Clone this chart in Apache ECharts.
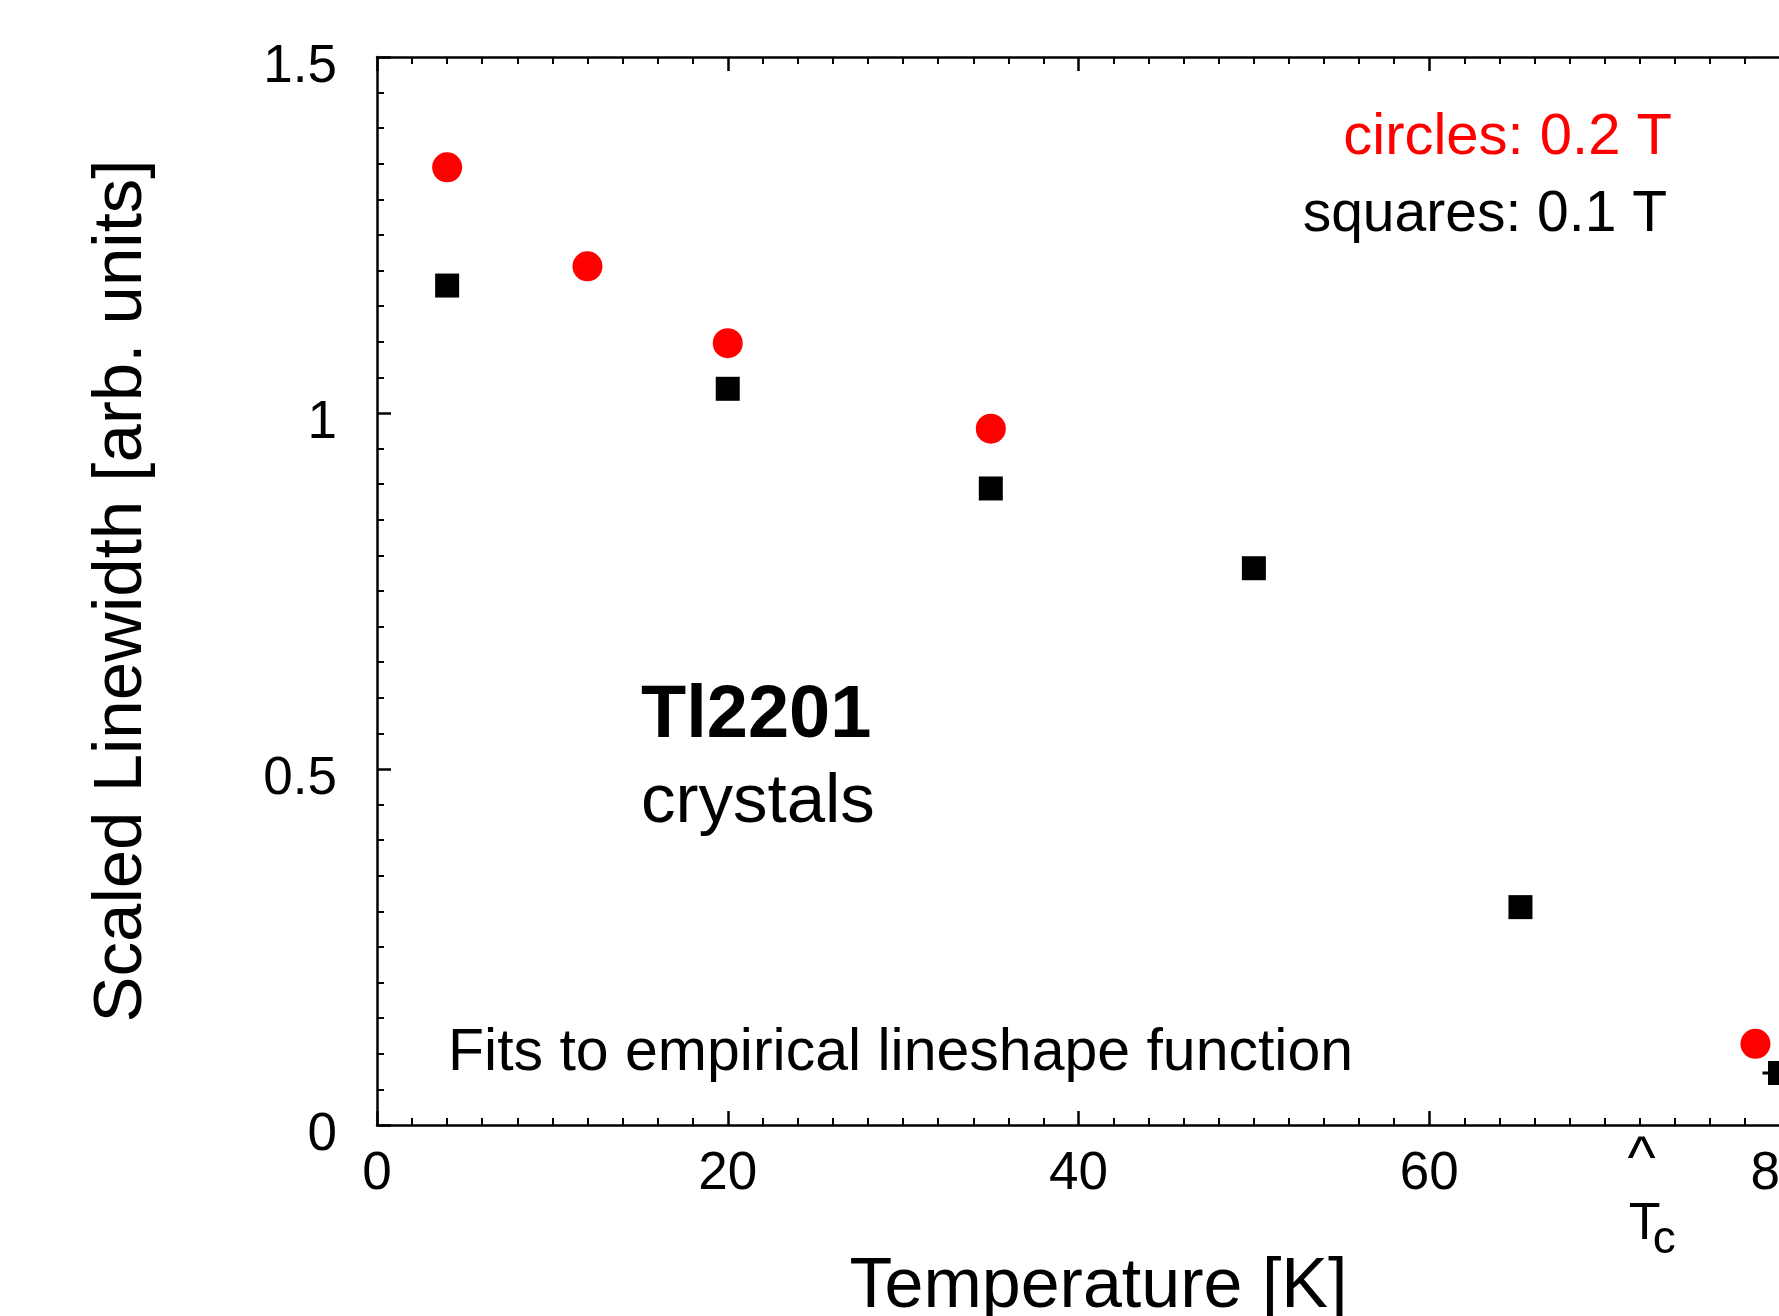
<!DOCTYPE html>
<html>
<head>
<meta charset="utf-8">
<title>Scaled Linewidth vs Temperature</title>
<script src="https://cdn.jsdelivr.net/npm/echarts@6/dist/echarts.min.js"></script>
<style>
html, body { margin: 0; padding: 0; background: #fff; }
#main { width: 1779px; height: 1316px; }
</style>
</head>
<body>
<div id="main"></div>
<script>
// values: temperature [K] and scaled linewidth [arb. units]
var circleT = [4, 12, 20, 35, 78.6];
var circleW = [1.345, 1.206, 1.098, 0.978, 0.114];
var squareT = [4, 20, 35, 50, 65.2, 80];
var squareW = [1.179, 1.034, 0.894, 0.782, 0.306, 0.073];
// horizontal error bar on the last square
var errT = [79, 80];
var errW = [0.073, 0.073];
var tc = 72;
var xTicks = [0, 20, 40, 60, 80];
var yTicks = [0, 0.5, 1, 1.5];

var font = '"Liberation Sans", Arial, Helvetica, sans-serif';

function zip(a, b) {
	var out = [];
	for (var i = 0; i < a.length; i++) {
		out.push([a[i], b[i]]);
	}
	return out;
}

function frameAxis(pos, showLabel, interval, minVal, maxVal) {
	return {
		type: 'value',
		position: pos,
		min: minVal,
		max: maxVal,
		interval: interval,
		axisLine: { show: true, onZero: false, lineStyle: { color: '#000', width: 2.5 } },
		axisTick: { show: true, inside: true, length: 14, lineStyle: { color: '#000', width: 2.5 } },
		minorTick: { show: true, splitNumber: 10, length: 7, lineStyle: { color: '#000', width: 2 } },
		splitLine: { show: false },
		axisLabel: { show: showLabel }
	};
}

var myChart = echarts.init(document.getElementById('main'));

var xBottom = frameAxis('bottom', true, 20, xTicks[0], xTicks[xTicks.length - 1]);
xBottom.axisLabel = { show: true, margin: 23, fontSize: 53, color: '#000', fontFamily: font };
xBottom.name = 'Temperature [K]';
xBottom.nameLocation = 'middle';
xBottom.nameGap = 128;
xBottom.nameTextStyle = { fontSize: 70, color: '#000', fontFamily: font, padding: [0, 0, 0, 40] };

var yLeft = frameAxis('left', true, 0.5, yTicks[0], yTicks[yTicks.length - 1]);
// labels sit a little below their ticks in the original
yLeft.axisLabel = { show: true, margin: 40, fontSize: 53, color: '#000', fontFamily: font, verticalAlign: 'top', lineHeight: 20 };
yLeft.name = 'Scaled Linewidth [arb. units]';
yLeft.nameLocation = 'middle';
yLeft.nameGap = 221;
yLeft.nameTextStyle = { fontSize: 69, color: '#000', fontFamily: font };

// plot is cut at the right edge, so the right frame is out of view
var option = {
	backgroundColor: '#fff',
	animation: false,
	grid: { left: 377, right: -1, top: 57, bottom: 191, outerBoundsMode: 'none', containLabel: false },
	xAxis: [xBottom, frameAxis('top', false, 20, xTicks[0], xTicks[xTicks.length - 1])],
	yAxis: [yLeft],
	series: [
		{
			name: 'circles: 0.2 T',
			type: 'scatter',
			symbol: 'circle',
			symbolSize: 30,
			itemStyle: { color: '#ff0000', opacity: 1 },
			data: zip(circleT, circleW),
			z: 3
		},
		{
			name: 'error',
			type: 'line',
			showSymbol: false,
			lineStyle: { color: '#000', width: 3 },
			data: zip(errT, errW),
			z: 4
		},
		{
			name: 'squares: 0.1 T',
			type: 'scatter',
			symbol: 'rect',
			symbolSize: 24,
			itemStyle: { color: '#000', opacity: 1 },
			data: zip(squareT, squareW),
			z: 5
		}
	]
};
myChart.setOption(option);

// Tc marker under the x axis
var p = myChart.convertToPixel({ xAxisIndex: 0, yAxisIndex: 0 }, [tc, 0]);

myChart.setOption({
	graphic: [
		{ type: 'text', x: 1672, y: 138, style: { text: 'circles: 0.2 T', font: '58px ' + font, fill: '#ff0000', align: 'right', verticalAlign: 'middle' } },
		{ type: 'text', x: 1667, y: 215, style: { text: 'squares: 0.1 T', font: '57px ' + font, fill: '#000', align: 'right', verticalAlign: 'middle' } },
		{ type: 'text', x: 641, y: 717, style: { text: 'Tl2201', font: 'bold 74px ' + font, fill: '#000', align: 'left', verticalAlign: 'middle' } },
		{ type: 'text', x: 641, y: 803, style: { text: 'crystals', font: '69px ' + font, fill: '#000', align: 'left', verticalAlign: 'middle' } },
		{ type: 'text', x: 448, y: 1054, style: { text: 'Fits to empirical lineshape function', font: '59px ' + font, fill: '#000', align: 'left', verticalAlign: 'middle' } },
		{ type: 'text', x: p[0] + 2, y: p[1] + 36, style: { text: '^', font: '60px ' + font, fill: '#000', align: 'center', verticalAlign: 'middle' } },
		{ type: 'text', x: p[0] - 11, y: p[1] + 100, style: { text: 'T', font: '52px ' + font, fill: '#000', align: 'left', verticalAlign: 'middle' } },
		{ type: 'text', x: p[0] + 13, y: p[1] + 115, style: { text: 'c', font: '46px ' + font, fill: '#000', align: 'left', verticalAlign: 'middle' } }
	]
});
</script>
</body>
</html>
